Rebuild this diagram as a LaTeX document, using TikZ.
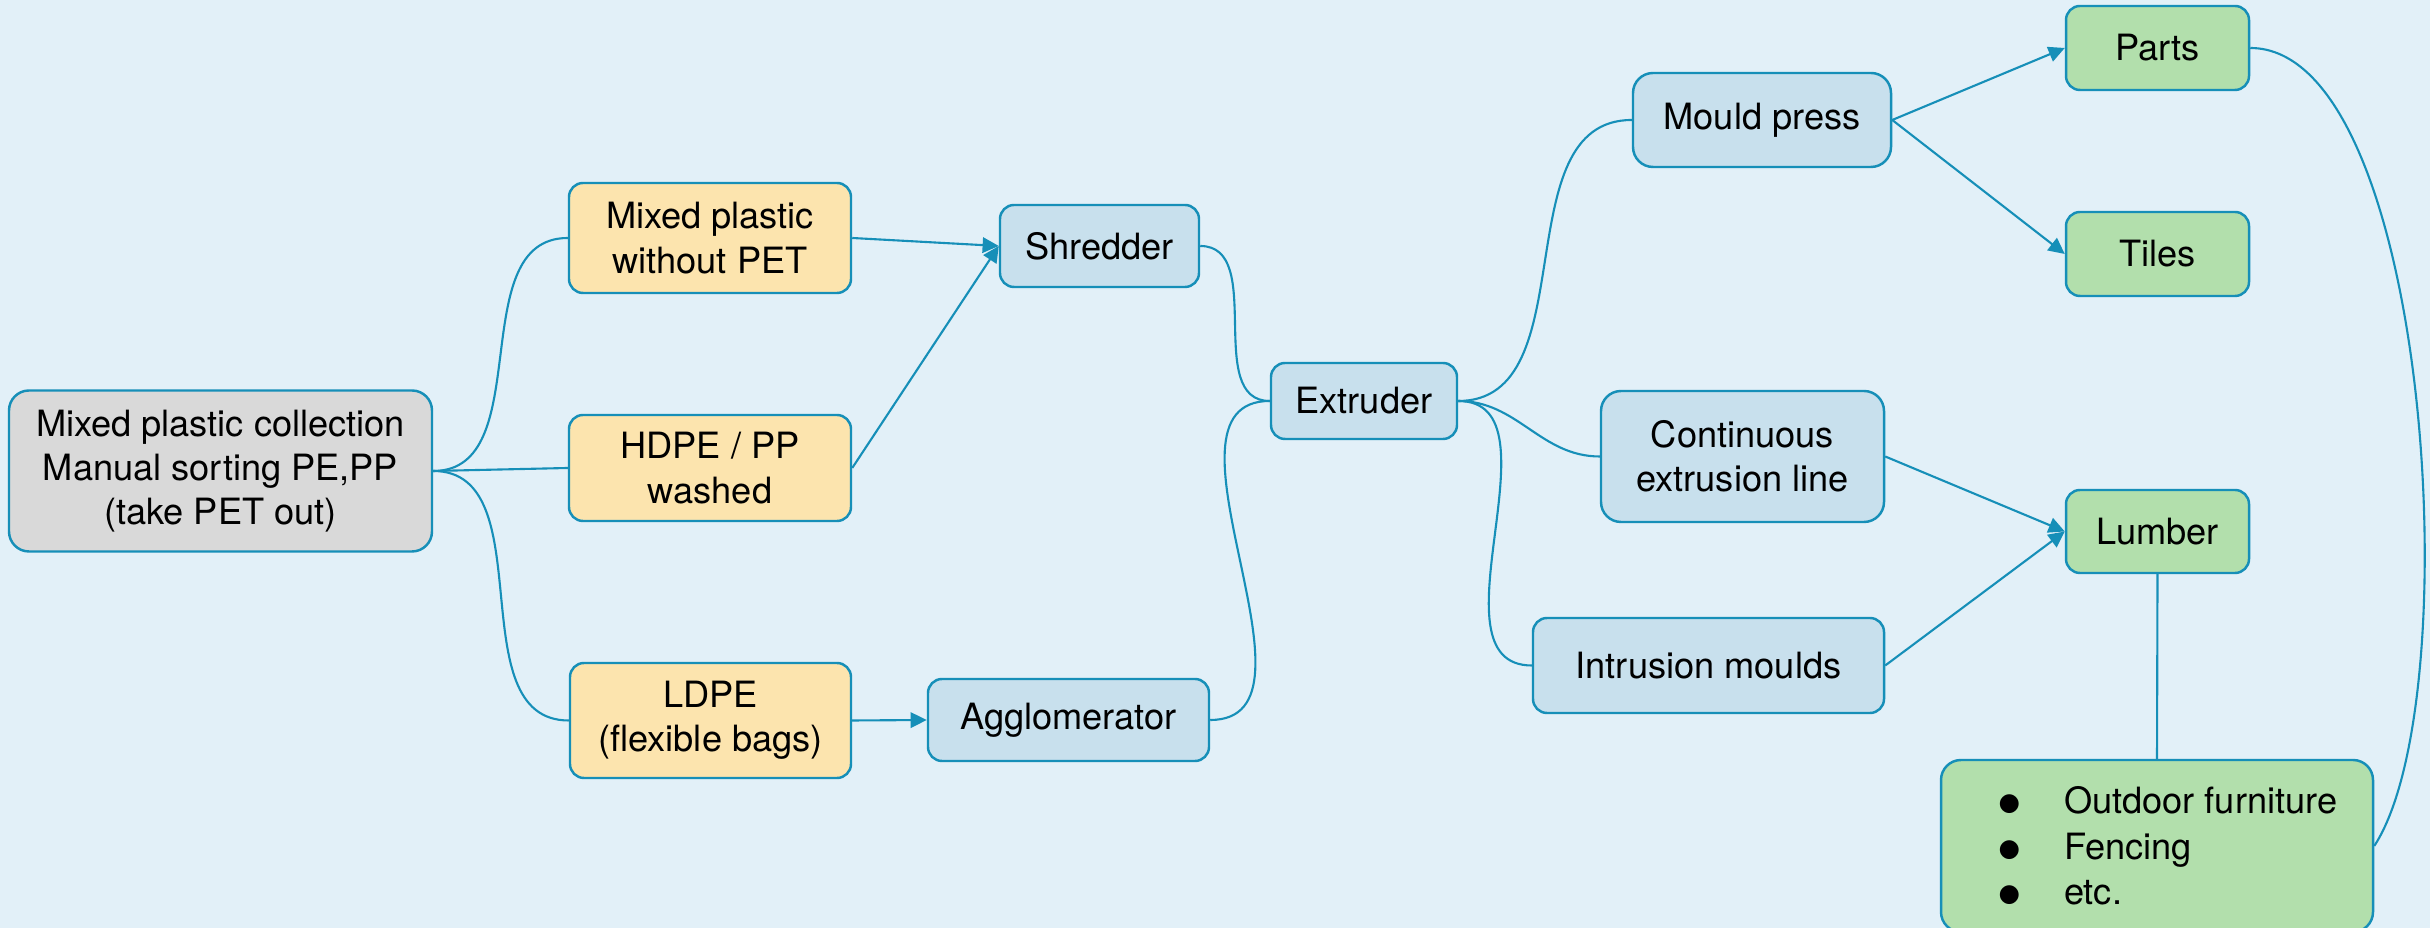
\documentclass[tikz,border=0pt]{standalone}
\usepackage{fontspec}
\setmainfont{TeX Gyre Heros}
\newfontfamily\symfont{DejaVu Sans}
\usetikzlibrary{arrows.meta}
\definecolor{bgblue}{RGB}{226,240,248}
\definecolor{edgeblue}{RGB}{22,143,184}
\definecolor{boxgray}{RGB}{217,217,217}
\definecolor{boxyellow}{RGB}{252,228,174}
\definecolor{boxblue}{RGB}{200,224,237}
\definecolor{boxgreen}{RGB}{178,223,172}
\newcommand{\bigdot}{\hspace*{2.2mm}\raisebox{0.9pt}{\symfont\fontsize{7}{8}\selectfont ●}\hspace{0.44cm}}
\begin{document}
\begin{tikzpicture}[
    box/.style={draw=edgeblue, line width=0.7pt, rounded corners=0.14cm,
      align=center, inner sep=0pt, text=black,
      font=\fontsize{10.3}{12.6}\selectfont},
    source/.style={box, fill=boxgray, rounded corners=0.2cm},
    stream/.style={box, fill=boxyellow},
    machine/.style={box, fill=boxblue},
    product/.style={box, fill=boxgreen},
    link/.style={draw=edgeblue, line width=0.6pt},
    flow/.style={link, -{Triangle[length=4.6pt,width=4.4pt]}},
    branch/.style={link, out=0, in=180}
  ]
  \fill[bgblue] (0,0) rectangle (24.3,-9.28);
  \useasboundingbox (0,0) rectangle (24.3,-9.28);
  \draw
    (2.205,-4.71) node[source, minimum width=4.23cm, minimum height=1.61cm] (coll)
      {Mixed plastic collection\\Manual sorting PE,PP\\(take PET out)}
    (7.10,-2.38) node[stream, minimum width=2.82cm, minimum height=1.10cm] (mixed)
      {Mixed plastic\\without PET}
    (7.10,-4.68) node[stream, minimum width=2.82cm, minimum height=1.06cm] (hdpe)
      {HDPE / PP\\washed}
    (7.105,-7.205) node[stream, minimum width=2.81cm, minimum height=1.15cm] (ldpe)
      {LDPE\\(flexible bags)}
    (10.995,-2.46) node[machine, minimum width=1.99cm, minimum height=0.82cm] (shred)
      {Shredder}
    (10.685,-7.20) node[machine, minimum width=2.81cm, minimum height=0.82cm] (agglo)
      {Agglomerator}
    (13.64,-4.01) node[machine, minimum width=1.86cm, minimum height=0.76cm] (extr)
      {Extruder}
    (17.62,-1.20) node[machine, minimum width=2.58cm, minimum height=0.94cm, rounded corners=0.2cm] (mould)
      {Mould press}
    (17.425,-4.565) node[machine, minimum width=2.83cm, minimum height=1.31cm, rounded corners=0.2cm] (cont)
      {Continuous\\extrusion line}
    (17.085,-6.655) node[machine, minimum width=3.51cm, minimum height=0.95cm] (intr)
      {Intrusion moulds}
    (21.575,-0.48) node[product, minimum width=1.83cm, minimum height=0.84cm] (parts)
      {Parts}
    (21.575,-2.54) node[product, minimum width=1.83cm, minimum height=0.84cm] (tiles)
      {Tiles}
    (21.575,-5.315) node[product, minimum width=1.83cm, minimum height=0.83cm] (lumber)
      {Lumber}
    (21.57,-8.46) node[product, minimum width=4.32cm, minimum height=1.72cm, rounded corners=0.2cm,
        align=left, font=\fontsize{10.3}{13}\selectfont] (outd)
      {\bigdot Outdoor furniture\\
       \bigdot Fencing\\
       \bigdot etc.};
  \begin{scope}
    \draw[branch] (coll.east) to (mixed.west);
    \draw[link] (coll.east) -- (hdpe.west);
    \draw[branch] (coll.east) to (ldpe.west);
    \draw[flow] (mixed.east) -- (shred.west);
    \draw[flow] (hdpe.east) -- (shred.west);
    \draw[flow] (ldpe.east) -- (agglo.west);
    \draw[branch] (shred.east) to (extr.west);
    \draw[branch] (agglo.east) to (extr.west);
    \draw[branch] (extr.east) to (mould.west);
    \draw[branch] (extr.east) to (cont.west);
    \draw[branch] (extr.east) to (intr.west);
    \draw[flow] (mould.east) -- (parts.west);
    \draw[flow] (mould.east) -- (tiles.west);
    \draw[flow] (cont.east) -- (lumber.west);
    \draw[flow] (intr.east) -- (lumber.west);
    \draw[link] (lumber.south) -- (outd.north);
    \draw[link] (parts.east) .. controls (24.30,-0.48) and (24.70,-7.00) .. (outd.east);
  \end{scope}
\end{tikzpicture}
\end{document}
